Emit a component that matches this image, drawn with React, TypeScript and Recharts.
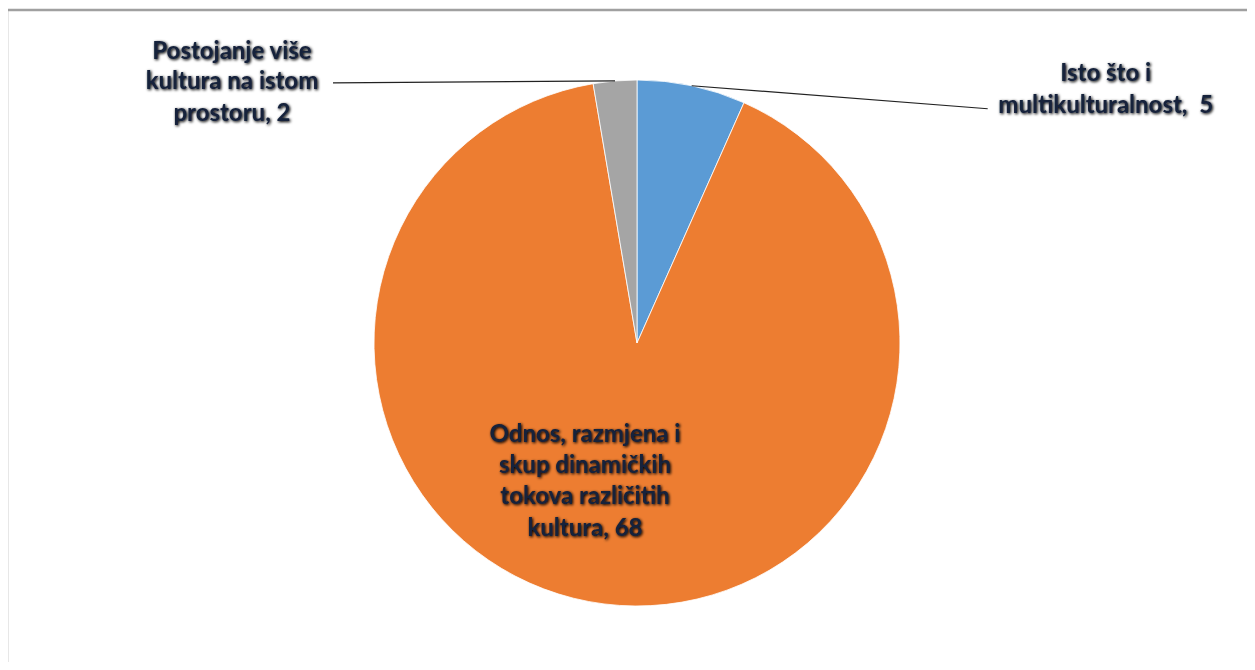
import { Cell, Pie, PieChart } from "recharts";

const categories = [
  "Isto što i multikulturalnost",
  "Odnos, razmjena i skup dinamičkih tokova različitih kultura",
  "Postojanje više kultura na istom prostoru",
];
const counts = [5, 68, 2];
const labelLines = [
  ["Isto što i", "multikulturalnost,\u00a0 5"],
  ["Odnos, razmjena i", "skup dinamičkih", "tokova različitih", "kultura, 68"],
  ["Postojanje više", "kultura na istom", "prostoru, 2"],
];
const colors = ["#5B9BD5", "#ED7D31", "#A5A5A5"];

const data = categories.map((name, i) => ({ name, value: counts[i] }));

const RAD = Math.PI / 180;
const TEXT_STYLE = {
  fontFamily: "Lato, 'Open Sans', sans-serif",
  fontWeight: 700,
  fontSize: 24,
  fill: "#14203a",
  filter: "url(#label-glow)",
};

// label placement per slice: leader line end, text centre, line offsets
const placement = [
  { line: [296, 23], text: [414, 0], rows: [-14, 18] },
  { line: null, text: [0, 0], rows: [89, 120, 151, 183] },
  { line: [-282, 2], text: [-383, 0], rows: [-31, -1, 31] },
];

function renderLabel(props: any) {
  const { cx, cy, midAngle, outerRadius, index } = props;
  const p = placement[index];
  const ex = cx + outerRadius * Math.cos(-midAngle * RAD);
  const ey = cy + outerRadius * Math.sin(-midAngle * RAD);
  const baseX = p.line ? ex : cx - 52;
  const baseY = p.line ? ey : cy;
  return (
    <g key={`lbl-${index}`}>
      {p.line && (
        <line x1={ex} y1={ey} x2={ex + p.line[0]} y2={ey + p.line[1]} stroke="#222" strokeWidth={1.2} />
      )}
      {labelLines[index].map((t, j) => (
        <text
          key={j}
          x={baseX + p.text[0]}
          y={baseY + p.rows[j]}
          textAnchor="middle"
          dominantBaseline="central"
          style={TEXT_STYLE}
        >
          {t}
        </text>
      ))}
    </g>
  );
}

export default function App() {
  return (
    <div style={{ margin: -8, width: 1255, height: 670, position: "relative", overflow: "hidden", background: "#fff" }}>
      <svg width={0} height={0} style={{ position: "absolute" }}>
        <defs>
          <filter id="label-glow" x="-20%" y="-50%" width="140%" height="200%">
            <feGaussianBlur in="SourceAlpha" stdDeviation="1.8" result="blur" />
            <feOffset in="blur" dx="1" dy="1.2" result="off" />
            <feComponentTransfer in="off" result="shadow">
              <feFuncA type="linear" slope="1.1" />
            </feComponentTransfer>
            <feMerge>
              <feMergeNode in="shadow" />
              <feMergeNode in="SourceGraphic" />
            </feMerge>
          </filter>
        </defs>
      </svg>
      <div style={{ position: "absolute", left: 0, top: 0 }}>
        <PieChart width={1255} height={670} margin={{ top: 0, right: 0, bottom: 0, left: 0 }}>
          <Pie
            data={data}
            dataKey="value"
            nameKey="name"
            cx={637}
            cy={343}
            outerRadius={263}
            startAngle={90}
            endAngle={-270}
            stroke="#ffffff"
            strokeWidth={0.8}
            label={renderLabel}
            labelLine={false}
            isAnimationActive={false}
          >
            {data.map((d, i) => (
              <Cell key={d.name} fill={colors[i]} />
            ))}
          </Pie>
        </PieChart>
      </div>
      <svg
        width={1255}
        height={670}
        style={{ position: "absolute", left: 0, top: 0, zIndex: 2, pointerEvents: "none" }}
      >
        <rect x={7} y={10} width={1400} height={800} fill="none" stroke="#a0a0a0" strokeWidth={2.5} />
      </svg>
    </div>
  );
}
